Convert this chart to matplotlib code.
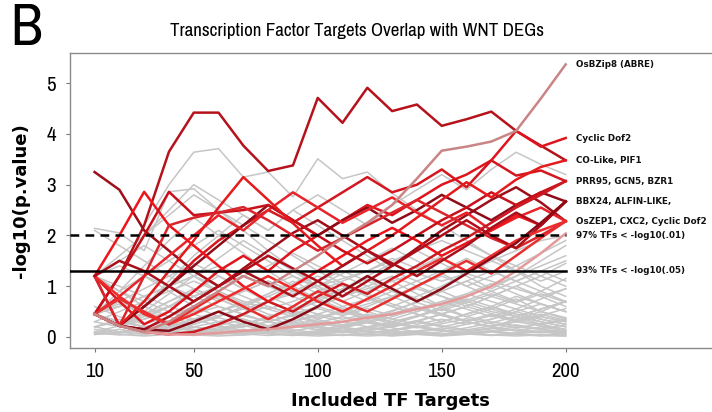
import matplotlib
matplotlib.use("Agg")
import matplotlib.pyplot as plt
import numpy as np

# Number of included TF targets (x axis)
targets = [10, 20, 30, 40, 50, 60, 70, 80, 90, 100,
           110, 120, 130, 140, 150, 160, 170, 180, 190, 200]

# Highlighted transcription factors (-log10 p-values per target count)
red_series = {
    "top":      [0.45, 1.2, 2.2, 3.65, 4.42, 4.42, 3.77, 3.27, 3.38, 4.71, 4.22, 4.91, 4.45, 4.58, 4.16, 4.29, 4.44, 4.06, 3.77, 3.48],
    "r2":       [3.25, 2.9, 2.1, 1.7, 1.3, 1.0, 1.35, 1.7, 2.05, 2.3, 2.0, 1.7, 1.4, 1.75, 2.1, 2.4, 2.7, 2.95, 2.65, 2.28],
    "cyclic":   [1.2, 0.7, 0.25, 0.5, 0.9, 1.3, 1.6, 1.3, 1.7, 2.0, 2.3, 2.6, 2.4, 2.7, 3.0, 3.2, 3.48, 4.06, 3.75, 3.92],
    "r5":       [1.2, 0.22, 0.6, 1.0, 1.5, 1.9, 2.2, 2.5, 2.25, 2.55, 2.85, 3.15, 2.85, 3.0, 3.3, 2.95, 3.48, 3.18, 3.28, 3.07],
    "r6":       [0.45, 0.22, 0.6, 1.0, 1.4, 1.8, 2.2, 2.6, 2.3, 2.0, 2.3, 2.55, 2.25, 2.5, 2.8, 2.55, 2.3, 2.6, 2.85, 2.67],
    "r7":       [0.45, 0.8, 1.2, 1.6, 2.0, 2.4, 2.1, 2.5, 2.85, 2.55, 2.25, 2.5, 2.75, 2.45, 2.2, 2.45, 2.1, 2.35, 2.55, 2.28],
    "r8":       [1.2, 2.0, 2.86, 2.2, 1.8, 1.4, 1.0, 0.7, 1.0, 1.3, 1.6, 1.9, 2.15, 1.9, 1.6, 1.85, 2.1, 2.4, 2.2, 2.67],
    "r9":       [0.45, 1.2, 2.0, 2.86, 2.4, 2.45, 2.5, 2.6, 2.3, 2.0, 1.7, 1.45, 1.7, 2.0, 2.3, 2.55, 2.85, 2.6, 2.85, 3.07],
    "r10":      [0.45, 0.22, 0.7, 1.3, 1.9, 2.55, 3.15, 2.7, 2.24, 1.8, 1.4, 1.7, 2.0, 2.35, 2.7, 3.05, 2.75, 3.1, 3.35, 3.48],
    "r11":      [1.2, 0.22, 1.2, 2.2, 2.35, 2.45, 2.56, 2.3, 2.0, 1.7, 1.95, 2.2, 2.45, 2.7, 2.45, 2.2, 1.95, 1.75, 2.0, 2.28],
    "r12":      [0.45, 0.22, 0.15, 0.4, 0.7, 1.0, 1.3, 1.6, 1.35, 1.1, 0.8, 1.1, 1.4, 1.7, 2.0, 2.3, 2.0, 1.75, 2.2, 2.67],
    "r13":      [0.45, 0.22, 0.1, 0.05, 0.1, 0.25, 0.45, 0.7, 0.5, 0.8, 1.05, 0.85, 1.15, 1.4, 1.7, 1.95, 2.25, 2.55, 2.8, 3.07],
    "r14":      [1.2, 0.8, 0.45, 0.25, 0.45, 0.7, 0.95, 1.2, 0.95, 0.7, 0.5, 0.75, 1.0, 1.3, 1.55, 1.3, 1.6, 1.9, 2.1, 2.28],
    "r16":      [1.2, 1.5, 1.3, 1.0, 0.7, 1.0, 1.3, 1.05, 0.8, 1.1, 1.4, 1.7, 1.45, 1.2, 1.5, 1.8, 2.15, 2.45, 2.2, 2.67],
    "r17":      [0.45, 0.75, 0.5, 0.25, 0.55, 0.85, 0.6, 0.35, 0.6, 0.9, 0.7, 0.5, 0.75, 1.0, 1.25, 1.5, 1.25, 1.6, 1.95, 2.28],
    "r18":      [0.45, 0.22, 0.15, 0.12, 0.3, 0.5, 0.3, 0.15, 0.35, 0.6, 0.9, 1.2, 0.95, 0.7, 0.95, 1.25, 1.55, 1.85, 2.25, 2.67],
    "pale":     [0.45, 0.22, 0.1, 0.05, 0.05, 0.08, 0.12, 0.15, 0.2, 0.25, 0.3, 0.38, 0.45, 0.55, 0.65, 0.8, 1.0, 1.3, 1.65, 2.04],
    "osbzip8":  [0.45, 0.22, 0.1, 0.3, 0.6, 0.9, 1.2, 1.0, 1.3, 1.6, 1.95, 2.25, 2.6, 3.12, 3.67, 3.75, 3.85, 4.06, 4.7, 5.37],
}
red_colors = {
    "top": "#b5121b", "r2": "#9e0f1a", "cyclic": "#e0141c", "r5": "#d4161e",
    "r6": "#8e0c18", "r7": "#e8232a", "r8": "#f0141a", "r9": "#c8101a",
    "r10": "#e41a1c", "r11": "#d9252b", "r12": "#b00d18", "r13": "#cc1a22",
    "r14": "#ef2b2b", "r16": "#a8101c", "r17": "#e63030", "r18": "#8a0a16",
    "pale": "#e49a9a", "osbzip8": "#c98585",
}

# Remaining transcription factors (background)
grey_series = [
    [0.45, 1.2, 2.2, 3.0, 3.64, 3.71, 3.15, 3.25, 2.76, 3.51, 3.12, 3.25, 2.83, 2.5, 2.2, 1.9, 1.6, 1.3, 1.0, 0.8],
    [2.14, 2.05, 1.7, 2.86, 2.92, 2.5, 2.1, 1.7, 1.35, 1.0, 0.7, 0.9, 1.1, 0.85, 0.6, 0.4, 0.55, 0.75, 0.5, 0.35],
    [0.45, 0.22, 0.6, 1.1, 1.6, 2.0, 2.4, 2.1, 2.5, 2.8, 2.5, 2.2, 2.6, 2.9, 3.2, 2.9, 3.3, 3.64, 3.4, 3.2],
    [1.2, 1.6, 2.0, 2.4, 2.8, 2.5, 2.2, 1.9, 1.6, 1.3, 1.05, 0.8, 0.6, 0.45, 0.3, 0.45, 0.6, 0.4, 0.25, 0.15],
    [0.45, 0.22, 0.5, 0.85, 1.2, 1.55, 1.9, 1.6, 1.3, 1.0, 1.25, 1.5, 1.75, 1.5, 1.25, 1.0, 0.8, 1.0, 1.2, 1.45],
    [1.2, 0.22, 0.35, 0.6, 0.9, 1.2, 0.95, 0.7, 0.5, 0.7, 0.95, 1.2, 1.45, 1.7, 1.45, 1.2, 0.95, 1.2, 1.5, 1.8],
    [0.45, 0.8, 1.2, 0.9, 0.6, 0.4, 0.6, 0.85, 1.1, 0.85, 0.6, 0.4, 0.25, 0.4, 0.6, 0.8, 1.0, 1.2, 1.4, 1.6],
    [0.45, 0.22, 0.12, 0.3, 0.5, 0.7, 0.9, 1.1, 0.9, 0.7, 0.5, 0.35, 0.5, 0.7, 0.9, 1.1, 0.9, 0.7, 0.9, 1.15],
    [1.2, 0.9, 0.6, 0.4, 0.25, 0.4, 0.6, 0.8, 1.0, 1.2, 1.0, 0.8, 0.6, 0.8, 1.0, 1.25, 1.5, 1.3, 1.1, 1.3],
    [0.45, 0.6, 0.8, 1.0, 1.2, 1.0, 0.8, 0.6, 0.45, 0.3, 0.2, 0.3, 0.45, 0.6, 0.45, 0.3, 0.2, 0.35, 0.5, 0.7],
    [0.45, 0.22, 0.1, 0.2, 0.35, 0.5, 0.35, 0.2, 0.3, 0.45, 0.6, 0.75, 0.6, 0.45, 0.3, 0.45, 0.6, 0.8, 0.65, 0.5],
    [0.1, 0.22, 0.4, 0.6, 0.45, 0.3, 0.2, 0.3, 0.45, 0.3, 0.2, 0.12, 0.2, 0.3, 0.45, 0.3, 0.2, 0.3, 0.4, 0.3],
    [0.45, 0.3, 0.2, 0.12, 0.08, 0.15, 0.25, 0.4, 0.55, 0.7, 0.55, 0.4, 0.3, 0.2, 0.3, 0.45, 0.6, 0.45, 0.3, 0.2],
    [0.2, 0.1, 0.05, 0.1, 0.2, 0.12, 0.06, 0.1, 0.18, 0.28, 0.4, 0.28, 0.18, 0.1, 0.15, 0.25, 0.35, 0.5, 0.35, 0.25],
    [1.2, 1.5, 1.8, 1.5, 1.2, 0.9, 0.65, 0.45, 0.3, 0.2, 0.12, 0.2, 0.3, 0.2, 0.12, 0.08, 0.12, 0.2, 0.15, 0.1],
    [0.45, 0.7, 0.95, 1.2, 1.45, 1.2, 0.95, 0.7, 0.5, 0.35, 0.5, 0.65, 0.8, 0.95, 0.8, 0.65, 0.5, 0.4, 0.55, 0.7],
    [0.05, 0.1, 0.18, 0.1, 0.05, 0.1, 0.15, 0.08, 0.04, 0.08, 0.12, 0.18, 0.12, 0.07, 0.04, 0.07, 0.12, 0.07, 0.04, 0.06],
    [0.45, 0.22, 0.35, 0.5, 0.35, 0.22, 0.12, 0.22, 0.35, 0.22, 0.12, 0.06, 0.12, 0.2, 0.12, 0.06, 0.1, 0.16, 0.1, 0.05],
    [1.2, 0.9, 1.2, 1.5, 1.8, 2.1, 1.8, 1.5, 1.2, 0.95, 0.7, 0.5, 0.35, 0.5, 0.7, 0.55, 0.4, 0.55, 0.75, 0.95],
    [0.45, 0.22, 0.12, 0.06, 0.12, 0.22, 0.35, 0.22, 0.12, 0.2, 0.3, 0.2, 0.12, 0.06, 0.1, 0.18, 0.28, 0.4, 0.55, 0.7],
    [0.3, 0.5, 0.7, 0.5, 0.3, 0.5, 0.7, 0.55, 0.4, 0.28, 0.18, 0.28, 0.4, 0.55, 0.7, 0.85, 0.7, 0.55, 0.4, 0.3],
    [0.45, 0.65, 0.45, 0.3, 0.2, 0.12, 0.2, 0.3, 0.22, 0.14, 0.08, 0.14, 0.22, 0.32, 0.22, 0.14, 0.22, 0.3, 0.22, 0.15],
    [1.2, 1.0, 0.8, 1.0, 1.2, 1.4, 1.2, 1.0, 0.8, 0.6, 0.8, 1.0, 0.8, 0.6, 0.45, 0.6, 0.8, 0.65, 0.5, 0.38],
    [0.15, 0.08, 0.15, 0.25, 0.15, 0.08, 0.04, 0.08, 0.14, 0.08, 0.04, 0.08, 0.14, 0.22, 0.14, 0.08, 0.04, 0.08, 0.12, 0.08],
    [0.45, 0.22, 0.45, 0.7, 0.95, 0.75, 0.55, 0.4, 0.55, 0.75, 0.95, 1.15, 0.95, 0.75, 0.6, 0.75, 0.6, 0.45, 0.35, 0.25],
    [2.1, 1.8, 1.5, 1.2, 0.95, 0.75, 0.55, 0.7, 0.9, 1.1, 1.3, 1.1, 0.9, 1.1, 1.3, 1.55, 1.3, 1.1, 0.9, 0.7],
    [0.45, 0.3, 0.45, 0.3, 0.45, 0.6, 0.45, 0.3, 0.2, 0.3, 0.2, 0.3, 0.2, 0.3, 0.2, 0.3, 0.2, 0.12, 0.2, 0.12],
    [0.08, 0.04, 0.08, 0.14, 0.08, 0.14, 0.22, 0.14, 0.22, 0.14, 0.22, 0.32, 0.22, 0.32, 0.45, 0.32, 0.45, 0.32, 0.45, 0.32],
    [1.2, 0.22, 0.12, 0.22, 0.12, 0.06, 0.12, 0.06, 0.03, 0.06, 0.03, 0.06, 0.03, 0.06, 0.03, 0.06, 0.03, 0.06, 0.03, 0.02],
    [0.45, 0.9, 1.4, 1.9, 2.35, 2.0, 1.65, 1.3, 1.0, 0.75, 0.55, 0.4, 0.3, 0.4, 0.55, 0.4, 0.3, 0.22, 0.15, 0.1],
    [0.45, 0.22, 0.12, 0.22, 0.35, 0.5, 0.65, 0.85, 1.05, 1.3, 1.05, 0.85, 0.65, 0.5, 0.65, 0.85, 1.05, 0.85, 0.65, 0.5],
    [0.2, 0.35, 0.2, 0.12, 0.06, 0.12, 0.06, 0.03, 0.06, 0.1, 0.16, 0.1, 0.06, 0.1, 0.06, 0.1, 0.16, 0.24, 0.16, 0.24],
    [1.2, 1.4, 1.2, 1.0, 0.8, 1.0, 1.2, 1.4, 1.65, 1.4, 1.2, 1.0, 1.2, 1.0, 0.8, 0.6, 0.8, 1.0, 0.8, 0.6],
    [0.45, 0.22, 0.12, 0.06, 0.03, 0.06, 0.1, 0.16, 0.24, 0.34, 0.24, 0.34, 0.46, 0.6, 0.46, 0.6, 0.46, 0.34, 0.24, 0.34],
    [0.6, 0.4, 0.25, 0.4, 0.6, 0.8, 0.6, 0.8, 0.6, 0.45, 0.35, 0.45, 0.35, 0.25, 0.35, 0.25, 0.35, 0.5, 0.65, 0.5],
    [0.45, 1.2, 2.0, 2.5, 3.0, 2.7, 2.4, 2.1, 2.5, 2.2, 1.9, 1.6, 1.3, 1.1, 0.9, 0.7, 0.55, 0.4, 0.3, 0.2],
    [0.1, 0.05, 0.02, 0.05, 0.1, 0.05, 0.1, 0.18, 0.1, 0.05, 0.1, 0.05, 0.02, 0.05, 0.02, 0.05, 0.1, 0.05, 0.02, 0.05],
    [0.45, 0.7, 0.45, 0.7, 0.9, 0.7, 0.9, 1.1, 0.9, 1.1, 0.9, 0.7, 0.9, 0.7, 0.9, 1.1, 1.3, 1.1, 1.3, 1.1],
    [0.45, 0.22, 0.12, 0.2, 0.3, 0.42, 0.55, 0.7, 0.85, 1.0, 1.15, 1.3, 1.5, 1.7, 1.9, 1.7, 1.5, 1.7, 1.9, 2.0],
    [1.2, 0.9, 0.7, 0.9, 1.1, 0.9, 0.7, 0.55, 0.7, 0.9, 1.1, 1.3, 1.55, 1.35, 1.6, 1.85, 1.6, 1.4, 1.65, 1.9],
    [0.05, 0.08, 0.12, 0.18, 0.12, 0.18, 0.26, 0.36, 0.26, 0.18, 0.12, 0.18, 0.26, 0.18, 0.26, 0.36, 0.26, 0.18, 0.26, 0.36],
    [0.45, 0.3, 0.2, 0.3, 0.2, 0.12, 0.08, 0.12, 0.08, 0.12, 0.18, 0.12, 0.08, 0.12, 0.18, 0.12, 0.18, 0.12, 0.08, 0.12],
    [0.2, 0.3, 0.45, 0.6, 0.8, 0.6, 0.45, 0.6, 0.45, 0.6, 0.45, 0.6, 0.8, 1.0, 1.2, 1.0, 1.2, 1.4, 1.2, 1.0],
    [0.45, 0.22, 0.12, 0.06, 0.12, 0.06, 0.12, 0.2, 0.3, 0.42, 0.3, 0.42, 0.3, 0.42, 0.56, 0.72, 0.9, 1.1, 1.3, 1.5],
    [1.2, 0.22, 0.45, 0.3, 0.2, 0.3, 0.42, 0.3, 0.42, 0.56, 0.42, 0.56, 0.42, 0.56, 0.42, 0.3, 0.42, 0.3, 0.42, 0.56],
    [0.08, 0.15, 0.08, 0.15, 0.25, 0.38, 0.25, 0.38, 0.52, 0.38, 0.52, 0.38, 0.52, 0.68, 0.52, 0.68, 0.85, 0.68, 0.85, 0.68],
    [0.45, 0.6, 0.8, 0.6, 0.8, 1.0, 1.2, 1.0, 1.2, 1.0, 0.8, 0.95, 1.1, 1.25, 1.1, 1.25, 1.1, 0.95, 0.8, 0.95],
    [0.3, 0.2, 0.12, 0.08, 0.04, 0.02, 0.04, 0.08, 0.04, 0.02, 0.04, 0.02, 0.04, 0.08, 0.04, 0.08, 0.04, 0.02, 0.04, 0.02],
]

# Right-hand annotations: (y position, text)
end_labels = [
    (5.37, "OsBZip8 (ABRE)"),
    (3.92, "Cyclic Dof2"),
    (3.48, "CO-Like, PIF1"),
    (3.07, "PRR95, GCN5, BZR1"),
    (2.67, "BBX24, ALFIN-LIKE,"),
    (2.28, "OsZEP1, CXC2, Cyclic Dof2"),
    (2.0, "97% TFs < -log10(.01)"),
    (1.3, "93% TFs < -log10(.05)"),
]
threshold_01 = 2.0
threshold_05 = 1.3

x_ticks = [10, 50, 100, 150, 200]
y_ticks = [0, 1, 2, 3, 4, 5]

narrow = ["Archivo Narrow", "Roboto Condensed", "Liberation Sans", "DejaVu Sans"]

fig = plt.figure(figsize=(7.12, 4.12), dpi=100)
ax = fig.add_axes([0.098, 0.155, 0.902, 0.717])

for ys in grey_series:
    ax.plot(targets, ys, color="#c6c6c6", lw=1.1, zorder=1)
for key, ys in red_series.items():
    ax.plot(targets, ys, color=red_colors[key], lw=1.8, zorder=2)

ax.plot([0, targets[-1]], [threshold_01, threshold_01], color="black",
        lw=1.8, ls=(0, (3.5, 2.5)), zorder=3)
ax.plot([0, targets[-1]], [threshold_05, threshold_05], color="black",
        lw=1.8, zorder=3)

for yv, txt in end_labels:
    ax.text(204, yv, txt, fontsize=6.3, fontweight="bold", va="center",
            ha="left", family="DejaVu Sans", color="#111111")

ax.set_xlim(0, 259)
ax.set_ylim(-0.22, 5.6)
ax.set_xticks(x_ticks)
ax.set_yticks(y_ticks)
ax.tick_params(axis="both", labelsize=15, length=3, color="#777777", pad=7)
for lab in ax.get_xticklabels() + ax.get_yticklabels():
    lab.set_family(narrow)
ax.spines["right"].set_visible(False)
for s in ["left", "bottom", "top"]:
    ax.spines[s].set_color("#8a8a8a")
    ax.spines[s].set_linewidth(1.0)

ax.set_xlabel("Included TF Targets", fontsize=13, fontweight="bold",
              family="DejaVu Sans", labelpad=8)
ax.set_ylabel("-log10(p.value)", fontsize=13, fontweight="bold",
              family="DejaVu Sans", labelpad=12)

fig.text(0.502, 0.925, "Transcription Factor Targets Overlap with WNT DEGs",
         fontsize=13.7, ha="center", va="center", family=narrow)
fig.text(0.015, 0.995, "B", fontsize=42, ha="left", va="top", family=narrow)

fig.savefig("out.png", dpi=100)
